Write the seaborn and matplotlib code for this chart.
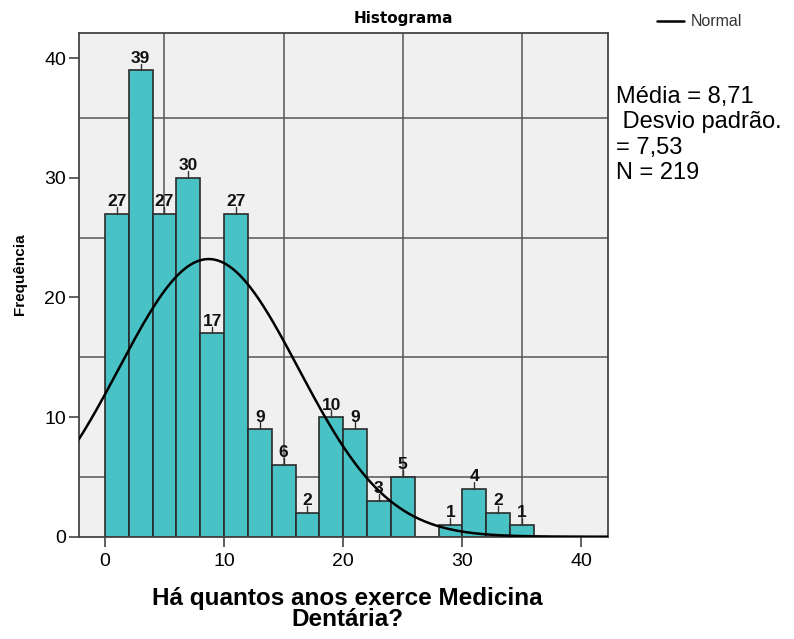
import numpy as np
import matplotlib
matplotlib.use("Agg")
import matplotlib.pyplot as plt
import seaborn as sns

# Years of practice, 2-year bins
bin_edges = list(range(0, 38, 2))
counts = [27, 39, 27, 30, 17, 27, 9, 6, 2, 10, 9, 3, 5, 0, 1, 4, 2, 1]
mean_val = 8.71
sd_val = 7.53
n_total = 219
x_ticks = [0, 10, 20, 30, 40]
y_ticks = [0, 10, 20, 30, 40]
grid_x = [5, 15, 25, 35]
grid_y = [5, 15, 25, 35]

sns.set_theme(style="white")
plt.rcParams['font.family'] = ['Liberation Sans', 'DejaVu Sans']
plt.rcParams['text.color'] = 'black'

W, H = 794, 639
fig = plt.figure(figsize=(W / 100, H / 100), dpi=100)
left, right, top, bottom = 78.7, 607.7, 33.0, 536.7
ax = fig.add_axes([left / W, 1 - bottom / H, (right - left) / W, (bottom - top) / H])
ax.set_facecolor('#F0F0F0')

centers = [(a + b) / 2 for a, b in zip(bin_edges[:-1], bin_edges[1:])]
bin_width = bin_edges[1] - bin_edges[0]

sns.histplot(x=centers, weights=counts, bins=bin_edges, ax=ax,
             color='#48C2C5', alpha=1, edgecolor='#2a2a2a', linewidth=1.2,
             zorder=2)

# Normal curve scaled to counts
xs = np.linspace(-2.2, 42.2, 500)
ys = n_total * bin_width * np.exp(-0.5 * ((xs - mean_val) / sd_val) ** 2) / (sd_val * np.sqrt(2 * np.pi))
curve, = ax.plot(xs, ys, color='black', lw=1.8, zorder=4, label='Normal')

# Value labels with a short leader line
for x, c in zip(centers, counts):
    if c > 0:
        ax.plot([x, x], [c, c + 0.55], color='#333333', lw=1.0, zorder=3)
        ax.text(x, c + 0.62, str(c), ha='center', va='baseline',
                fontsize=12.5, fontweight='bold', color='#111111', zorder=5)

ax.set_xlim(-2.2, 42.2)
ax.set_ylim(0, 42.1)
ax.set_xticks(x_ticks)
ax.set_yticks(y_ticks)
ax.set_xticks(grid_x, minor=True)
ax.set_yticks(grid_y, minor=True)
ax.grid(which='minor', color='#555555', lw=1.1)
ax.grid(which='major', visible=False)
ax.set_axisbelow(True)
ax.tick_params(which='minor', length=0, bottom=False, left=False)
ax.tick_params(which='major', direction='out', length=7, width=1.2,
               color='#444444', labelsize=14, labelcolor='black',
               bottom=True, left=True)
ax.tick_params(axis='y', pad=2)
ax.tick_params(axis='x', pad=5)
for s in ax.spines.values():
    s.set_visible(True)
    s.set_color('#444444')
    s.set_linewidth(1.3)
ax.set_xlabel('')
ax.set_ylabel('')

fig.text(403 / W, 1 - 19 / H, 'Histograma', ha='center', va='center',
         fontsize=11, fontweight='bold', family=['DejaVu Sans'])
fig.text(20 / W, 1 - 274 / H, 'Frequência', rotation=90, ha='center',
         va='center', fontsize=11, fontweight='bold')
fig.text(347 / W, 1 - 609 / H, 'Há quantos anos exerce Medicina\nDentária?',
         ha='center', va='center', multialignment='center',
         fontsize=17.5, fontweight='bold', linespacing=0.88)

mean_s = f"{mean_val:.2f}".replace('.', ',')
sd_s = f"{sd_val:.2f}".replace('.', ',')
fig.text(616 / W, 1 - 86 / H,
         f"Média = {mean_s}\n Desvio padrão.\n= {sd_s}\nN = {n_total}",
         ha='left', va='top', fontsize=17, linespacing=1.2)

fig.legend(handles=[curve], labels=['Normal'], loc='center left',
           bbox_to_anchor=(657 / W, 1 - 22 / H), frameon=False,
           fontsize=11.5, handlelength=1.7, handletextpad=0.4,
           borderpad=0, borderaxespad=0, labelcolor='#333333')

fig.savefig('out.png', dpi=100)
